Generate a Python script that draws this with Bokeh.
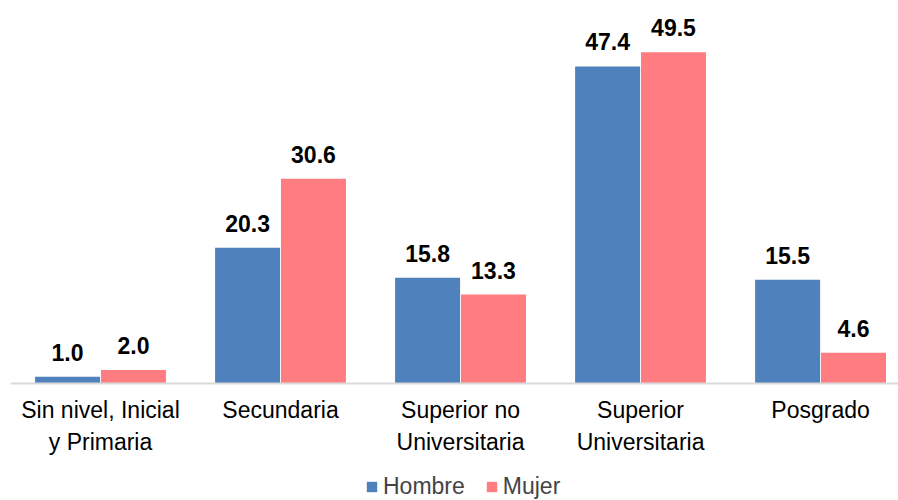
from bokeh.plotting import figure
from bokeh.models import ColumnDataSource, Range1d, FixedTicker, LabelSet, Legend, LegendItem
from bokeh.core.properties import value
from bokeh.embed import file_html
from bokeh.resources import INLINE

# Education level distribution (%) by sex
categories = ["Sin nivel, Inicial\ny Primaria", "Secundaria", "Superior no\nUniversitaria",
              "Superior\nUniversitaria", "Posgrado"]
hombre = [1.0, 20.3, 15.8, 47.4, 15.5]
mujer = [2.0, 30.6, 13.3, 49.5, 4.6]

BLUE = "#4F81BD"
PINK = "#FF7C80"
FONT = "Liberation Sans"

idx = list(range(len(categories)))
offset = 0.183
bar_w = 0.361

src_h = ColumnDataSource(dict(x=[i - offset for i in idx], y=hombre,
                              label=[f"{v:.1f}" for v in hombre]))
src_m = ColumnDataSource(dict(x=[i + offset for i in idx], y=mujer,
                              label=[f"{v:.1f}" for v in mujer]))

# frame spans the full height; the category axis sits on the zero line
p = figure(width=898, height=500, output_backend="svg", toolbar_location=None,
           x_range=Range1d(-0.5, 4.433), y_range=Range1d(-17.49, 57.25),
           y_axis_location=None, min_border_left=10, min_border_right=0,
           min_border_top=0, min_border_bottom=0)
p.outline_line_color = None
p.xgrid.grid_line_color = None
p.ygrid.grid_line_color = None
p.background_fill_color = "white"
p.border_fill_color = "white"

rh = p.vbar(x="x", top="y", width=bar_w, bottom=0, source=src_h, fill_color=BLUE, line_color=None)
rm = p.vbar(x="x", top="y", width=bar_w, bottom=0, source=src_m, fill_color=PINK, line_color=None)

for src in (src_h, src_m):
    p.add_layout(LabelSet(x="x", y="y", text="label", source=src, text_align="center",
                          text_baseline="alphabetic", y_offset=16, text_font=value(FONT),
                          text_font_size="23px", text_font_style="bold", text_color="black"))

ax = p.xaxis[0]
ax.fixed_location = 0
ax.ticker = FixedTicker(ticks=idx)
ax.major_label_overrides = {i: c for i, c in zip(idx, categories)}
ax.major_tick_line_color = None
ax.minor_tick_line_color = None
ax.axis_line_color = "#D9D9D9"
ax.axis_line_width = 2
ax.major_label_standoff = 8
ax.major_label_text_font = FONT
ax.major_label_text_font_size = "23px"
ax.major_label_text_color = "black"

legend = Legend(items=[LegendItem(label="Hombre", renderers=[rh]),
                       LegendItem(label="Mujer", renderers=[rm])],
                location=(355, 0), orientation="horizontal",
                padding=0, margin=0, spacing=20, label_standoff=5,
                glyph_width=13, glyph_height=13, label_height=20,
                label_text_font=FONT, label_text_font_size="23px",
                border_line_color=None, background_fill_alpha=0)
p.add_layout(legend, "center")

open("out.html", "w").write(file_html(p, INLINE))
